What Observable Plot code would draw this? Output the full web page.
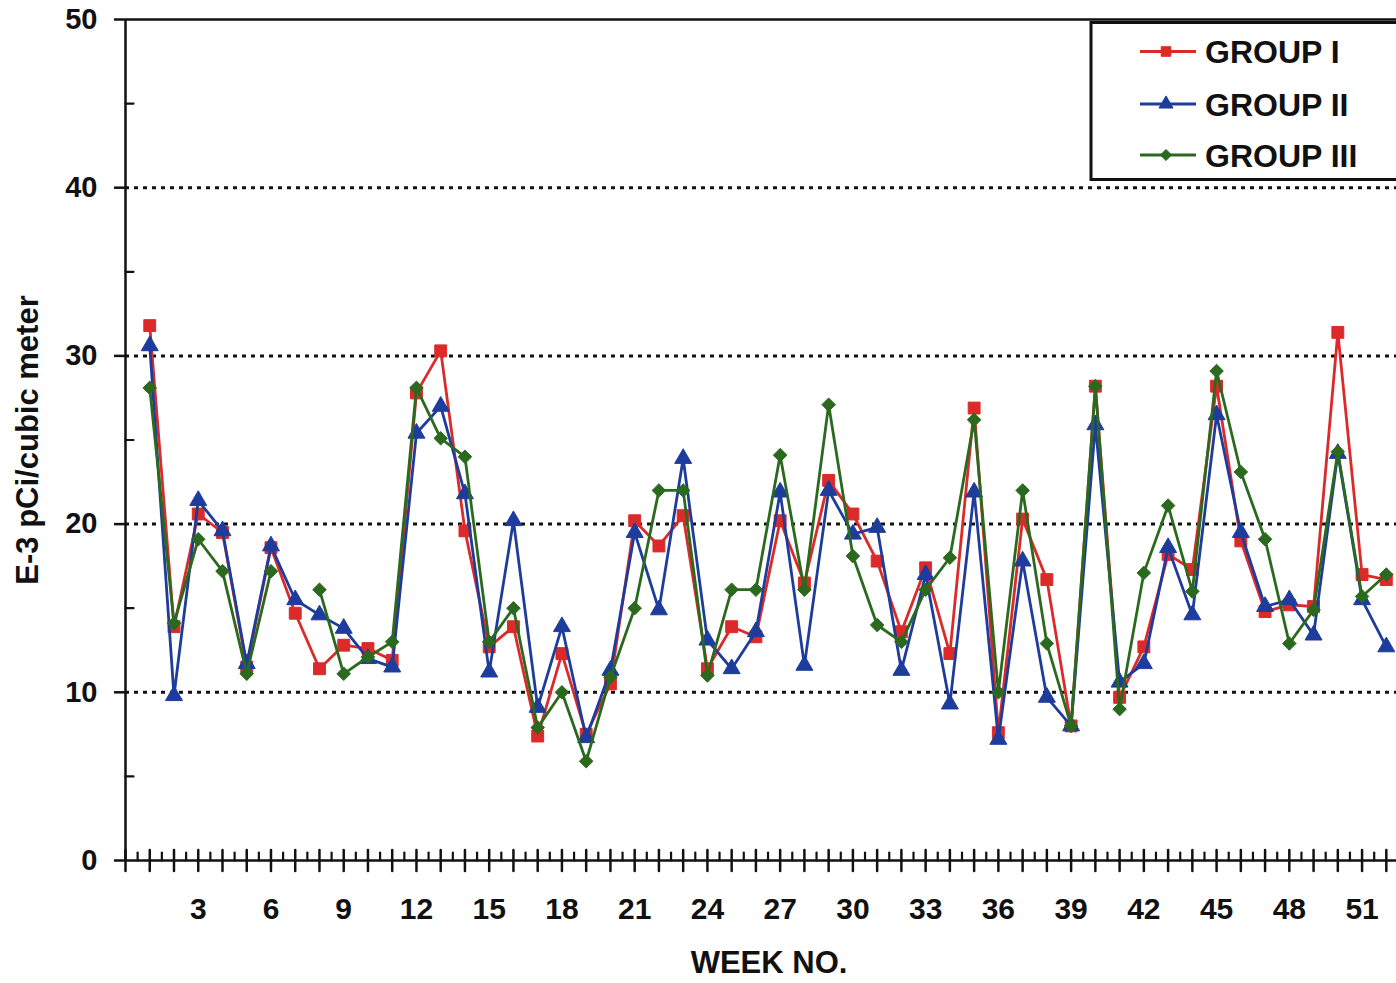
<!DOCTYPE html>
<html><head><meta charset="utf-8">
<script src="https://cdn.jsdelivr.net/npm/d3@7"></script>
<script src="https://cdn.jsdelivr.net/npm/@observablehq/plot@0.6"></script>
<style>
body{margin:0;background:#fff;}
#wrap{position:relative;width:1396px;height:983px;overflow:hidden;font-family:"Liberation Sans",Arial,sans-serif;background:#fff;}
#wrap svg{position:absolute;left:0;top:0;}
</style></head><body><div id="wrap"></div>
<script>
const weeks = d3.range(1, 53);
const groupI = [31.8,13.9,20.6,19.5,11.5,18.6,14.7,11.4,12.8,12.6,11.9,27.8,30.3,19.6,12.7,13.9,7.4,12.3,7.5,10.5,
  20.2,18.7,20.5,11.4,13.9,13.3,20.2,16.5,22.6,20.6,17.8,13.6,17.4,12.3,26.9,7.6,20.3,16.7,8.0,28.2,
  9.7,12.7,18.2,17.3,28.2,19.0,14.8,15.2,15.1,31.4,17.0,16.7];
const groupII = [30.6,9.8,21.4,19.6,11.7,18.7,15.5,14.6,13.8,12.0,11.5,25.4,27.0,21.8,11.2,20.2,9.1,13.9,7.3,11.3,
  19.5,14.9,23.9,13.1,11.4,13.6,21.9,11.6,22.0,19.4,19.8,11.3,17.0,9.3,21.9,7.2,17.8,9.7,8.0,25.9,
  10.6,11.7,18.6,14.6,26.5,19.5,15.1,15.5,13.4,24.2,15.5,12.7];
const groupIII = [28.1,14.1,19.1,17.2,11.1,17.2,null,16.1,11.1,12.1,13.0,28.1,25.1,24.0,13.0,15.0,7.9,10.0,5.9,10.9,
  15.0,22.0,22.0,11.0,16.1,16.1,24.1,16.1,27.1,18.1,14.0,13.0,16.1,18.0,26.2,10.0,22.0,12.9,8.0,28.2,
  9.0,17.1,21.1,16.0,29.1,23.1,19.1,12.9,14.9,24.3,15.7,17.0];
const seriesNames = ["GROUP I", "GROUP II", "GROUP III"];
const seriesColors = ["#dc2a2a", "#1e3c9c", "#2b6a1e"];
const seriesSymbols = ["square", "triangle", "diamond2"];
const seriesR = [6.7, 6.3, 6.1];
const yMajorTicks = [0, 10, 20, 30, 40, 50];
const yGrid = [10, 20, 30, 40];
const yMinorTicks = [5, 15, 25, 35, 45];
const xLabelTicks = d3.range(3, 52, 3);
const xMajorTicks = d3.range(0, 53);
const xMinorTicks = d3.range(0.5, 52.5, 1);

const rows = [];
[groupI, groupII, groupIII].forEach((vals, s) => {
  weeks.forEach((w, i) => rows.push({series: seriesNames[s], s, week: w, value: vals[i]}));
});

const FONT = '"Liberation Sans", Arial, sans-serif';
const tickShape = {draw(context, l) { context.moveTo(0, 0); context.lineTo(0, -l); }};

const seriesMarks = [];
seriesNames.forEach((name, s) => {
  const data = rows.filter(d => d.s === s);
  seriesMarks.push(Plot.line(data, {x: "week", y: "value", stroke: seriesColors[s], strokeWidth: 2.8, curve: "linear"}));
  seriesMarks.push(Plot.dot(data.filter(d => d.value != null), {x: "week", y: "value", symbol: seriesSymbols[s], r: seriesR[s], fill: seriesColors[s], stroke: seriesColors[s], strokeWidth: 1}));
});

const chart = Plot.plot({
  width: 1396, height: 983,
  marginTop: 19, marginBottom: 123, marginLeft: 125, marginRight: 0,
  x: {domain: [0, 52.42]},
  y: {domain: [0, 50]},
  style: {fontFamily: FONT, background: "transparent", color: "#111", overflow: "visible"},
  marks: [
    Plot.ruleY(yGrid, {stroke: "#111", strokeWidth: 3, strokeDasharray: "4,5"}),
    Plot.ruleY([50], {stroke: "#111", strokeWidth: 2.5}),
    ...seriesMarks,
    Plot.ruleY([0], {stroke: "#111", strokeWidth: 2.5}),
    Plot.ruleX([0], {stroke: "#111", strokeWidth: 2.5}),
    Plot.vector(xMajorTicks, {x: d => d, y: 0, length: 21, anchor: "middle", shape: tickShape, stroke: "#111", strokeWidth: 2.5}),
    Plot.vector(xMinorTicks, {x: d => d, y: 0, length: 8, anchor: "start", shape: tickShape, stroke: "#111", strokeWidth: 2.2}),
    Plot.vector(yMinorTicks, {x: 0, y: d => d, length: 8, rotate: 90, anchor: "start", shape: tickShape, stroke: "#111", strokeWidth: 2.2}),
    Plot.axisY({ticks: yMajorTicks, tickSize: 11, tickPadding: 17, strokeWidth: 2.5, fontSize: 29, fontWeight: "bold", label: null}),
    Plot.axisX({ticks: xLabelTicks, tickSize: 0, tickPadding: 37, fontSize: 30, fontWeight: "bold", label: null}),
    Plot.text(["WEEK NO."], {frameAnchor: "bottom", text: d => d, dy: 103, dx: 8, fontSize: 31, fontWeight: "bold", lineAnchor: "middle"}),
    Plot.text(["E-3 pCi/cubic meter"], {frameAnchor: "left", text: d => d, dx: -97, rotate: -90, fontSize: 31, fontWeight: "bold", textAnchor: "middle", lineAnchor: "middle"})
  ]
});
const wrap = document.getElementById("wrap");
wrap.appendChild(chart);

// legend overlay
const lg = d3.select(wrap).append("svg").attr("width", 1396).attr("height", 983).style("pointer-events", "none");
lg.append("rect").attr("x", 1091).attr("y", 22.5).attr("width", 340).attr("height", 157)
  .attr("fill", "#fff").attr("stroke", "#111").attr("stroke-width", 3);
const rowY = [51.5, 104, 155];
const legR = [5.4, 5.2, 5.0];
seriesNames.forEach((name, s) => {
  const g = lg.append("g");
  g.append("line").attr("x1", 1140).attr("x2", 1196).attr("y1", rowY[s]).attr("y2", rowY[s])
    .attr("stroke", seriesColors[s]).attr("stroke-width", 2.8);
  const sym = [d3.symbolSquare, d3.symbolTriangle, d3.symbolDiamond2][s];
  g.append("path").attr("d", d3.symbol(sym, Math.PI * legR[s] * legR[s])())
    .attr("transform", `translate(1166,${rowY[s]})`).attr("fill", seriesColors[s]).attr("stroke", seriesColors[s]);
  g.append("text").attr("x", 1205).attr("y", rowY[s]).attr("dy", "0.36em")
    .attr("font-family", FONT).attr("font-weight", "bold").attr("font-size", 32).attr("fill", "#111").text(name);
});
</script></body></html>
